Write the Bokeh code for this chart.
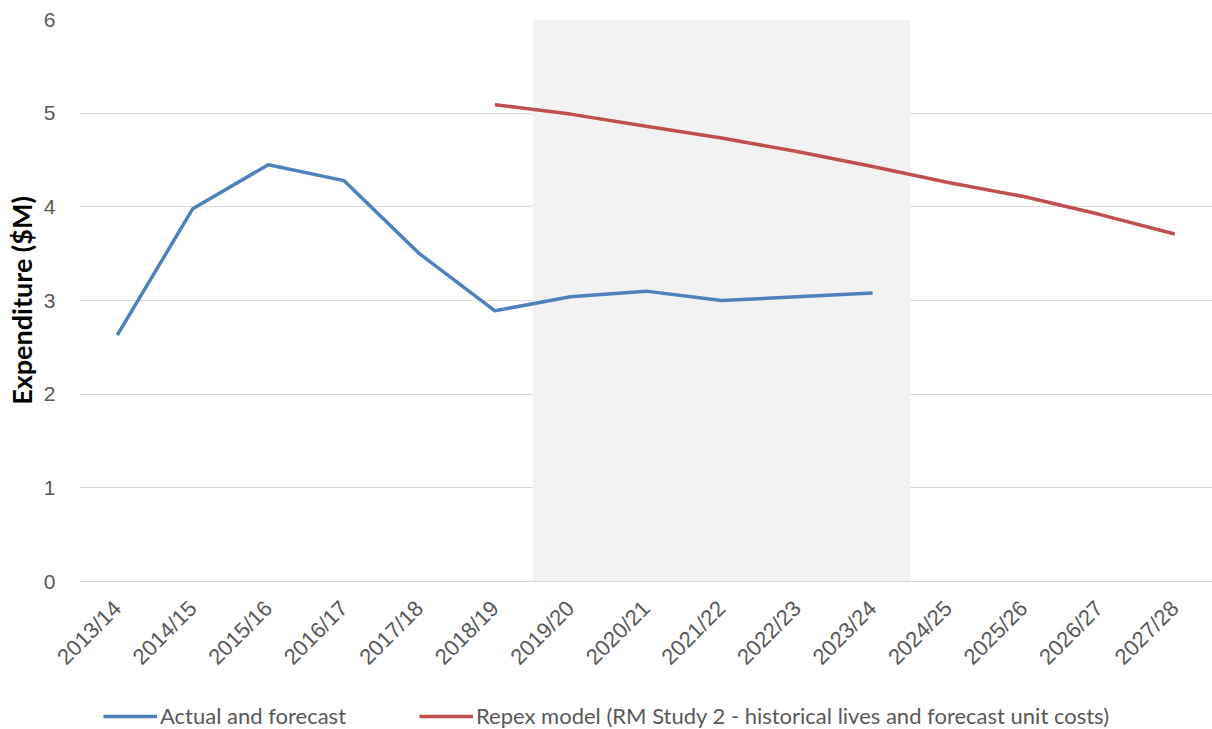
import math

from bokeh.embed import file_html
from bokeh.resources import INLINE
from bokeh.plotting import figure
from bokeh.layouts import column
from bokeh.models import ColumnDataSource, Legend, LegendItem, Range1d, FactorRange, FixedTicker
from bokeh.transform import dodge

# Financial years on the category axis
years = ["2013/14", "2014/15", "2015/16", "2016/17", "2017/18", "2018/19", "2019/20",
         "2020/21", "2021/22", "2022/23", "2023/24", "2024/25", "2025/26", "2026/27",
         "2027/28"]

# Actual and forecast expenditure ($M)
actual_years = years[:11]
actual = [2.63, 3.98, 4.45, 4.28, 3.50, 2.89, 3.04, 3.10, 3.00, 3.04, 3.08]

# Repex model output ($M)
repex_years = years[5:]
repex = [5.09, 4.99, 4.86, 4.735, 4.59, 4.43, 4.26, 4.11, 3.92, 3.71]

# Regulatory period highlighted in the background
period_years = years[6:11]

y_ticks = [0, 1, 2, 3, 4, 5, 6]

series_labels = ["Actual and forecast",
                 "Repex model (RM Study 2 - historical lives and forecast unit costs)"]

BLUE = "#4F81BD"
RED = "#C0504D"
GREY_TEXT = "#595959"
GRID = "#D9D9D9"
LINE_W = 3.5

actual_src = ColumnDataSource(dict(x=actual_years, y=actual))
repex_src = ColumnDataSource(dict(x=repex_years, y=repex))

p = figure(
    frame_width=1133, frame_height=562,
    x_range=FactorRange(*years, range_padding=0),
    y_range=Range1d(y_ticks[0], y_ticks[-1]),
    output_backend="svg", toolbar_location=None,
    min_border_left=79, min_border_right=0, min_border_top=19, min_border_bottom=100,
)
p.outline_line_color = None
p.background_fill_color = "white"
p.border_fill_color = "white"

# Shaded period band, spanning whole categories
band = ColumnDataSource(dict(l=[period_years[0]], r=[period_years[-1]],
                             b=[y_ticks[0]], t=[y_ticks[-1]]))
p.quad(left=dodge("l", -0.5, range=p.x_range), right=dodge("r", 0.5, range=p.x_range),
       bottom="b", top="t", source=band, fill_color="#F2F2F2", line_color=None)

p.line("x", "y", source=actual_src, line_color=BLUE, line_width=LINE_W)
p.line("x", "y", source=repex_src, line_color=RED, line_width=LINE_W)

# Axes and grid
p.xgrid.grid_line_color = None
p.ygrid.grid_line_color = GRID
p.ygrid.grid_line_width = 1
p.yaxis.ticker = FixedTicker(ticks=y_ticks)

p.yaxis.axis_line_color = None
p.yaxis.major_tick_line_color = None
p.yaxis.minor_tick_line_color = None
p.yaxis.major_label_text_color = GREY_TEXT
p.yaxis.major_label_text_font = "Liberation Sans"
p.yaxis.major_label_text_font_size = "21px"
p.yaxis.major_label_standoff = 18
p.yaxis.axis_label = "Expenditure ($M)"
p.yaxis.axis_label_text_font = "Lato"
p.yaxis.axis_label_text_font_style = "bold"
p.yaxis.axis_label_text_font_size = "27px"
p.yaxis.axis_label_text_color = "black"
p.yaxis.axis_label_standoff = 3

p.xaxis.axis_line_color = GRID
p.xaxis.major_tick_line_color = None
p.xaxis.minor_tick_line_color = None
p.xaxis.major_label_orientation = math.pi / 4
p.xaxis.major_label_text_color = GREY_TEXT
p.xaxis.major_label_text_font = "Liberation Sans"
p.xaxis.major_label_text_font_size = "22px"
p.xaxis.major_label_standoff = 17

# Legend strip underneath the chart; its series share the chart's data but sit
# outside this strip's vertical range, so only the legend keys show.
leg = figure(
    width=1212, height=48, x_range=p.x_range, y_range=Range1d(-2, -1),
    x_axis_type=None, y_axis_type=None,
    output_backend="svg", toolbar_location=None,
    min_border_left=0, min_border_right=0, min_border_top=0, min_border_bottom=0,
)
leg.outline_line_color = None
leg.xgrid.grid_line_color = None
leg.ygrid.grid_line_color = None
key_actual = leg.line("x", "y", source=actual_src, line_color=BLUE, line_width=LINE_W)
key_repex = leg.line("x", "y", source=repex_src, line_color=RED, line_width=LINE_W)

legend = Legend(
    items=[LegendItem(label=series_labels[0], renderers=[key_actual]),
           LegendItem(label=series_labels[1], renderers=[key_repex])],
    orientation="horizontal", location=(24, 0),
    label_text_font="Lato", label_text_font_size="22px", label_text_color=GREY_TEXT,
    glyph_width=54, label_standoff=3, spacing=73,
    border_line_color=None, background_fill_alpha=0,
    margin=0, padding=0,
)
leg.add_layout(legend, "center")

open("out.html", "w").write(file_html(column(p, leg, spacing=0), INLINE))
